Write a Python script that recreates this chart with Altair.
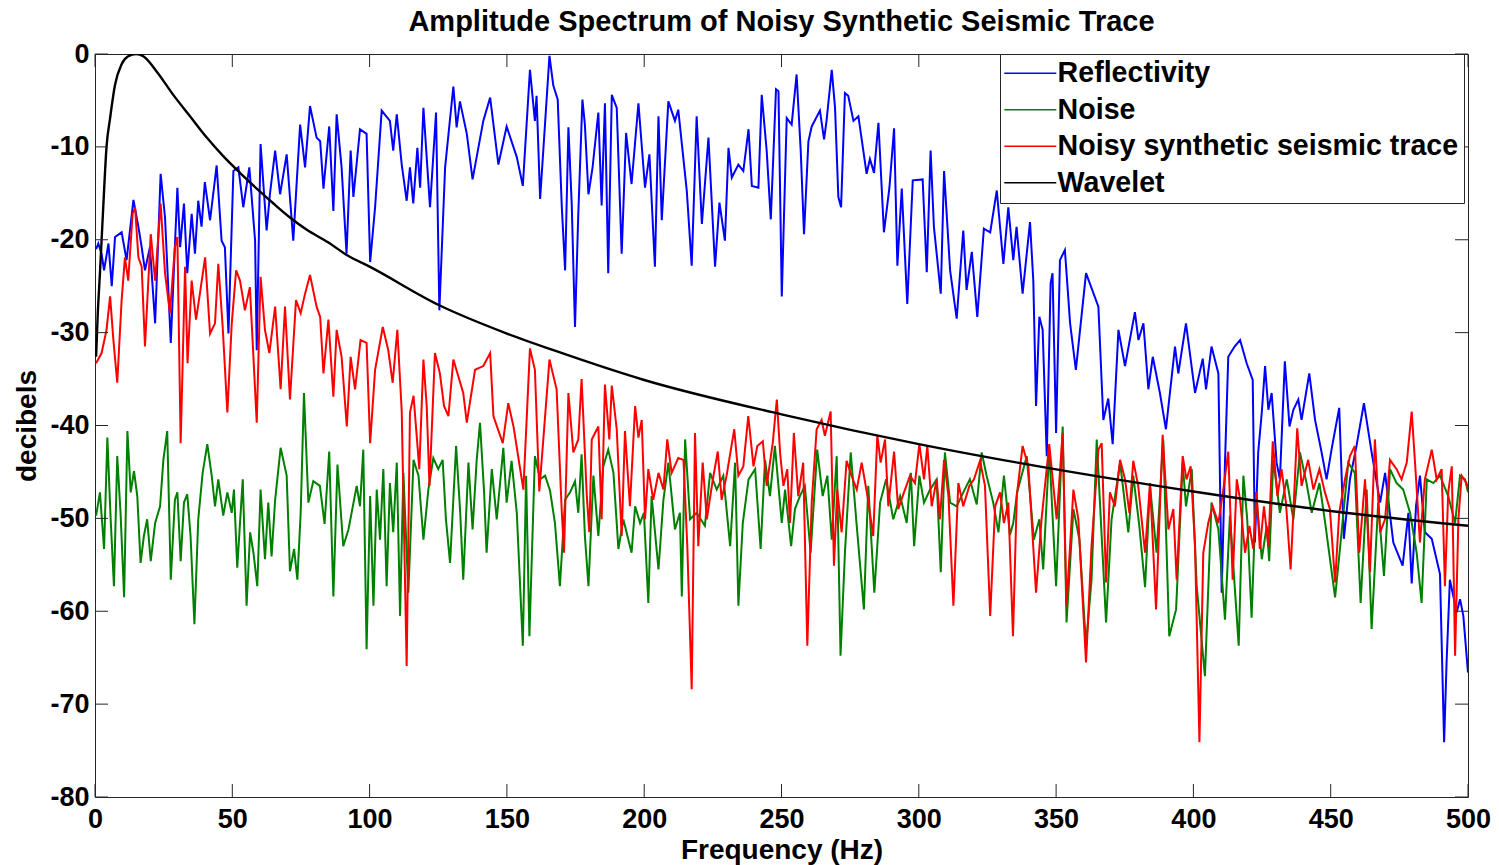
import altair as alt
import pandas as pd

# Amplitude spectra (frequency in Hz, level in dB)
reflectivity = [
    (0.4, -21), (1.2, -20.4), (2.4, -21.5), (3.3, -23.3), (4.9, -20.4), (6.1, -25), (7.3, -19.7),
    (9.7, -19.2), (11.5, -22.2), (14, -15.7), (15.8, -18.6), (17, -20.8), (18.2, -23.3), (20, -20.8),
    (21.9, -29), (23.9, -12.9), (25.5, -17.6), (27.6, -31.1), (30, -14.4), (31, -20.8), (32.4, -16.1),
    (33.6, -23.6), (35.2, -17.2), (36.4, -21.5), (37.6, -15.8), (38.8, -18.6), (40, -13.8), (41.9, -17.9),
    (44.3, -12), (46.1, -20.1), (47.3, -20.8), (48.6, -30.1), (50.4, -12.6), (52.2, -12.2), (54, -16.5),
    (56.2, -12.2), (58.3, -20.1), (58.9, -31.9), (60.3, -9.7), (62.5, -19), (63.7, -15.1), (65.6, -10.4),
    (67.4, -15.1), (69.8, -10.8), (72.2, -20.1), (74.7, -7.6), (76.5, -12.2), (78.3, -5.6), (80.7, -9),
    (82, -9.4), (83.2, -14.5), (85.3, -7.8), (86.8, -16.9), (88, -6.5), (89.8, -12.2), (91.6, -21.5),
    (93.1, -10.4), (94.1, -15.4), (96.5, -8.1), (98.9, -8.6), (100.2, -22.4), (102, -16.5), (104.4, -6.1),
    (107.4, -7.2), (108.6, -10.4), (109.9, -6.5), (111.7, -11.9), (113.5, -15.8), (114.7, -12.2),
    (115.9, -16.1), (117.4, -10.1), (118.4, -14.4), (119.6, -5.8), (122, -16.5), (124.2, -6.3),
    (125.4, -27.6), (127.5, -12.2), (130.5, -3.5), (131.7, -7.9), (132.9, -5.1), (135.4, -8.6),
    (137.5, -13.5), (141.4, -7.2), (143.9, -4.7), (146.9, -11.9), (149.9, -7.8), (153.6, -11.1),
    (155.8, -14.2), (158.4, -1.7), (160.2, -7.2), (160.8, -4.5), (162.1, -15.6), (165.5, -0.2),
    (166.9, -3.4), (168.5, -4.9), (170, -16.5), (171.2, -23.3), (172.4, -7.9), (173.6, -16.1),
    (174.8, -29.4), (176, -17.2), (177.5, -4.9), (178.4, -7.6), (179.7, -15.1), (181.2, -12.2),
    (183.3, -6.3), (184.5, -16.3), (185.7, -5.3), (186.9, -23.6), (188.2, -4.4), (190, -5.8),
    (191.8, -21.5), (193.4, -8.5), (195.4, -14), (197.9, -5.3), (200.3, -14.4), (201.9, -10.8),
    (203.9, -22.9), (205.2, -6.7), (206.4, -17.9), (208.8, -5.1), (211.2, -7.2), (212.4, -6),
    (215.5, -14.7), (217.3, -22.8), (219.1, -6.7), (221, -18.3), (223.4, -9), (225.8, -22.9),
    (227.4, -16), (229.4, -20.1), (230.7, -10.1), (231.9, -13.3), (234.3, -11.9), (236.1, -12.6),
    (238, -8.1), (239.2, -14.2), (241.6, -14.4), (242.8, -4.4), (244.6, -10.4), (246.1, -17.8),
    (248, -3.8), (248.9, -4), (250.1, -26.1), (250.8, -18.6), (251.9, -6.9), (253.7, -7.6),
    (255.5, -2.2), (257, -10.4), (258.2, -19.4), (259.8, -9.4), (261, -7.8), (264, -6.1), (265.5, -9.2),
    (266.4, -7.2), (268.3, -1.7), (269.5, -5.8), (270.7, -15.4), (271.7, -16.5), (273.1, -4.2),
    (274.3, -4.5), (276.2, -7.2), (278, -6.7), (281, -12.9), (282.2, -11.3), (283.7, -12.8),
    (285.3, -7.4), (287.3, -19.2), (289.3, -14.4), (291, -8), (292.2, -22.8), (293.8, -14.5),
    (295.8, -26.9), (297.8, -13.6), (301.4, -13.5), (302.9, -23.5), (304.3, -10.4), (305.5, -18.6),
    (308, -25.8), (309.2, -12.6), (311.4, -23.3), (313.8, -28.5), (316.2, -19), (317.4, -25.4),
    (319.3, -21.3), (321.3, -28.3), (323.7, -18.8), (326, -19.2), (328.4, -14.7), (330.8, -22.6),
    (332.6, -16.5), (334.4, -22.2), (335.6, -18.6), (337.8, -25.8), (340.5, -18.1), (341.7, -24.4),
    (342.7, -37.9), (343.9, -28.3), (345.1, -29.7), (346.6, -43.3), (348, -24.7), (348.7, -23.6),
    (350, -40.8), (351.4, -22.2), (353.2, -21.1), (355.1, -29), (357.2, -34), (360.9, -23.6),
    (365.4, -27.2), (367.2, -39.4), (369, -37.1), (370.6, -42), (372.7, -29.7), (375.1, -33.6),
    (378.7, -27.8), (380, -30.8), (381.8, -29), (383.6, -36.1), (385.2, -32.6), (387.8, -36.5),
    (390, -40.4), (393.3, -31.5), (394.5, -34.4), (397.3, -29), (400.6, -36.5), (403.4, -32.8),
    (404.6, -36.1), (406.6, -31.5), (409.1, -34.4), (410.3, -58), (411.5, -44), (412.7, -32.6),
    (415, -31.5), (417, -30.8), (419.4, -33.3), (421.6, -35.1), (422.4, -52.6), (423.6, -42.9),
    (424.9, -38.6), (426.1, -33.6), (427.3, -38.3), (428.5, -36.5), (430.3, -44), (431.5, -45.8),
    (433.3, -33.1), (435, -40.1), (436.4, -38.3), (438.2, -37.2), (439.4, -39.4), (442.2, -34.4),
    (444.3, -39.4), (446.7, -42.9), (448.5, -45.8), (450.3, -42.6), (453.1, -38.1), (454.8, -52.2),
    (457, -45.8), (459.4, -42.2), (462.1, -37.6), (464.9, -42.9), (468, -48.3), (469.8, -45.1),
    (472.8, -52.6), (476.2, -55.1), (478.3, -49.4), (479.5, -57), (481.1, -48.6), (482.5, -45.4),
    (484.3, -51.5), (486.8, -52.2), (489.8, -56), (491.3, -74.1), (492.2, -65.5), (493.4, -56.6),
    (495.9, -60.1), (497.1, -58.7), (498.3, -60.5), (500, -66.6),
]

noise = [
    (0.4, -49.7), (1.8, -47.2), (3.3, -53.3), (4.5, -41.3), (5.7, -50.1), (6.9, -57.3), (8.1, -43.3),
    (9.3, -49.4), (10.6, -58.5), (11.8, -40.6), (13, -47.2), (14.2, -44.9), (15.4, -47.6), (16.6, -54.8),
    (17.8, -51.9), (19, -50.1), (20.3, -54.6), (21.9, -50.5), (23.7, -48.7), (24.9, -43.7), (26.3, -40.6),
    (27.6, -56.6), (29.1, -48), (30, -47.2), (31.2, -54.6), (32.4, -48.3), (33.6, -47.4), (34.8, -51.9),
    (36.2, -61.4), (37.6, -50.1), (39.2, -45.1), (40.9, -42), (42.5, -45.4), (43.7, -48.7), (44.9, -45.8),
    (46.7, -49.7), (48.2, -47.2), (49.8, -49.4), (50.6, -46.9), (51.8, -55.3), (53.8, -45.8), (55.2, -59.4),
    (56.5, -51.5), (57.7, -53.7), (59.1, -57.3), (60.3, -46.9), (61.9, -54.4), (63.1, -48.3), (64.3, -54.1),
    (65.6, -48), (67.6, -42.4), (69.8, -45.4), (71, -55.7), (72.5, -53.3), (73.7, -56.6), (74.9, -49.4),
    (76.1, -36.5), (77.7, -48.3), (79.5, -46), (81.9, -46.5), (83.6, -50.6), (85.3, -42.8), (86.8, -58.4),
    (88.3, -44.2), (90.4, -53), (92.3, -51.2), (95.3, -46.5), (96.5, -48.7), (97.7, -42.6), (98.9, -64.1),
    (100.2, -47.6), (101.4, -59.4), (102.6, -46.9), (103.8, -52.3), (105, -44.7), (106.2, -57.3),
    (107.4, -46.2), (108.6, -51.5), (109.9, -44), (111.1, -60.5), (112.3, -45.1), (114.1, -58),
    (116, -43.7), (117.8, -45.4), (119.6, -52.3), (121.4, -46.9), (123.2, -43.5), (125, -44.7),
    (126.6, -43.7), (127.8, -50.1), (129.3, -54.8), (131.5, -42.2), (133, -49.4), (134.1, -56.6),
    (136, -44), (137.5, -51.2), (139, -43.7), (140.2, -39.7), (141.7, -47.2), (142.6, -53.7),
    (144.5, -44.7), (146.3, -50.1), (148.7, -42.4), (149.9, -48.3), (151.7, -43.8), (153.6, -49.4),
    (155.8, -63.7), (157, -45.4), (158.2, -62.7), (160.2, -43.3), (162.1, -45.8), (163.9, -45.4),
    (165.7, -47), (167.5, -50.5), (169.3, -57.3), (171.2, -48), (173, -47.2), (174.8, -46), (176, -49.4),
    (177.2, -43.1), (178.4, -51.9), (179.7, -57.3), (181.5, -45.4), (183.3, -51.9), (185.1, -44.4),
    (186.9, -42.6), (188.8, -45.1), (190.6, -53.3), (192.4, -50.1), (195.4, -53.7), (196.7, -48.7),
    (198.5, -50.5), (199.9, -49.4), (201.5, -59.1), (202.7, -47.6), (205.2, -55.5), (207, -48),
    (208.8, -44), (211.2, -51.2), (213, -49.4), (213.7, -58.4), (214.9, -41.5), (216.7, -50.1),
    (219.1, -49.4), (222.1, -50.8), (224, -45.1), (226.4, -46.9), (228.8, -45.4), (231.3, -53),
    (233.1, -44), (234.3, -59.4), (235.9, -50.5), (238, -45.8), (240.4, -44.7), (242.4, -53.3),
    (244, -43.7), (245.8, -47.6), (247.6, -42.2), (250.1, -50.5), (251.3, -46.9), (253.5, -53),
    (254.9, -49), (256.7, -47.6), (258.5, -46.5), (260.6, -53.7), (263, -42.6), (265, -47.6),
    (266.7, -45.4), (268.3, -52.3), (270.1, -43.3), (271.5, -64.8), (273.1, -53.7), (275.2, -42.9),
    (277.4, -50.8), (280, -59.8), (281.6, -46.5), (283.8, -58), (285.9, -48.3), (288.1, -45.8),
    (290.7, -50.1), (293.2, -47.6), (295.6, -50.5), (297.1, -45.1), (298.3, -53), (300.2, -45.4),
    (301.9, -48.3), (304.1, -46.9), (306.5, -45.8), (308, -55.8), (309.5, -42.9), (311.4, -48.3),
    (313.8, -48.7), (316.2, -47.2), (318.6, -45.8), (321.1, -48.5), (322.9, -42.9), (324.7, -45.4),
    (327.1, -48.3), (329, -51.5), (331, -45.4), (333.2, -51.8), (334.4, -50.5), (335.8, -47.2),
    (339.3, -43.3), (341.9, -52.3), (343.9, -50.1), (345.3, -55.5), (347.5, -42.6), (350, -57.3),
    (352.4, -40.1), (353.8, -61.2), (356.3, -49), (358.5, -52.3), (360.9, -63.7), (362.9, -56.6),
    (364.8, -41.5), (368.2, -61.2), (370.2, -50.1), (373.3, -44), (376.3, -51.5), (378.1, -45.4),
    (380.3, -50.8), (382.4, -57.4), (384.2, -46.5), (386.6, -53.7), (389, -41.5), (391.2, -62.7),
    (393.7, -59.8), (396.1, -44), (397.3, -48.7), (399.4, -44.7), (401.2, -57.3), (404.2, -67),
    (406.6, -48.3), (409.1, -51.2), (411.5, -60.9), (413.3, -49.7), (416.5, -63.7), (418.2, -45.4),
    (419.6, -50.1), (421.2, -60.7), (422.8, -47.2), (424.9, -54.4), (426.7, -50.8), (427.6, -54.6),
    (429.1, -43.7), (431.5, -49.4), (434, -45.8), (436.4, -50.1), (438.8, -42.9), (441.2, -46.2),
    (443.1, -49.4), (445.9, -46.2), (448, -50.5), (451.6, -58.5), (453.6, -52.6), (456.4, -44),
    (458.8, -45.1), (460.9, -59.1), (463.1, -46.9), (464.9, -61.9), (467.3, -48.3), (469.4, -56.2),
    (471.6, -44.7), (474, -46.2), (476.4, -46.9), (478.9, -49.4), (481.3, -53.7), (483.1, -59.1),
    (485, -45.8), (487.4, -46.2), (489.8, -45.4), (492.8, -47.6), (495.3, -50.5), (497.1, -45.4),
    (498.9, -45.8), (500, -47.2),
]

noisy_trace = [
    (0.4, -33.3), (2.4, -32.2), (4.2, -29.7), (5.5, -26.1), (6.7, -30.8), (8.1, -35.4), (9.7, -26.5),
    (10.9, -21.9), (12.1, -24.4), (13.7, -17.2), (14.6, -16.5), (15.8, -21.9), (17, -22.9), (18.2, -31.5),
    (20.3, -19.4), (21.9, -24.4), (23.9, -16.1), (25.5, -23.6), (27.3, -27.9), (29.1, -20.8), (30, -19.7),
    (31.2, -41.9), (32.8, -22.9), (33.7, -33.3), (35.2, -24.4), (36.8, -28.6), (38.2, -25.8), (40.1, -21.9),
    (41.9, -30.1), (43.7, -29), (44.9, -22.6), (46.5, -29.4), (48.2, -38.6), (49.8, -29), (51.4, -23.3),
    (52.8, -24.4), (54.6, -27.6), (56.4, -25.1), (58.9, -39.7), (60.3, -24), (61.9, -29.7), (63.5, -32.2),
    (65.6, -27.2), (67.6, -36.1), (69.2, -27.2), (71, -37.2), (73.2, -26.5), (74.9, -27.9), (76.5, -25.8),
    (78.3, -23.8), (80.7, -27.2), (82, -28.3), (83.2, -34.4), (85, -28.6), (86.8, -36.9), (88, -29.7),
    (89.8, -32.6), (91.7, -40.1), (93.1, -32.6), (94.7, -36.1), (96.7, -30.8), (98.9, -31.1),
    (100.2, -41.9), (102, -34), (104.8, -29.4), (106.8, -31.9), (108.4, -35.4), (110.1, -29.7),
    (111.7, -38.5), (113.5, -65.9), (114.7, -38.6), (116, -36.8), (118.1, -44.7), (119.6, -32.9),
    (120.8, -37.9), (121.8, -46.5), (123.8, -32.2), (125.6, -34.4), (127.1, -37.9), (128.7, -39),
    (130.5, -32.9), (134.1, -36.5), (135.4, -39.7), (138.4, -34), (141.4, -33.6), (143.9, -32.2),
    (145.1, -39), (148.5, -41.9), (150.5, -37.6), (152.4, -40.1), (156, -46.9), (158.4, -31.7),
    (160.2, -34), (161.8, -47.1), (165.5, -32.9), (168.1, -36.1), (170, -49.4), (170.8, -53.7),
    (172.4, -36.5), (174.2, -42.9), (176, -41.5), (177.2, -35), (179.1, -47.6), (180, -51.5),
    (180.9, -41.5), (183.3, -40.1), (184.5, -50.1), (185.7, -35.6), (187.3, -41.5), (188.2, -35.7),
    (190, -40.4), (191.8, -51.9), (193, -40.6), (194.8, -48.7), (196.7, -37.9), (197.9, -41.3),
    (199.1, -39.4), (200.3, -50.1), (201.5, -44.7), (203.3, -48), (205.2, -45.1), (207, -46.9),
    (208.4, -41.5), (210, -45.1), (212.4, -43.5), (214.3, -43.7), (215.7, -53), (217.3, -68.4),
    (218.5, -40.8), (219.7, -53), (221.3, -44), (222.8, -50.1), (225, -45.8), (226.8, -42.8),
    (228.2, -48), (230, -45.4), (232.8, -40.4), (234.3, -45.4), (236.1, -44.4), (237.9, -39),
    (239.8, -44.4), (241.2, -42.2), (243.2, -41.7), (244.6, -46.5), (246.8, -41.9), (248.3, -37.2),
    (249.5, -43), (250.7, -46.5), (252.1, -44.7), (253.1, -50.5), (254.5, -40.8), (256.1, -47.6),
    (257.9, -44), (259.4, -63.7), (261, -48.3), (262.8, -40.4), (264.6, -39.4), (265.8, -41.1),
    (267.9, -38.5), (269.1, -55.1), (270.3, -46.9), (271.9, -51.5), (273.7, -43.8), (275.5, -45.4),
    (277.4, -46.9), (279.2, -44), (281.3, -47.6), (283.4, -51.9), (284.9, -41), (286.1, -44),
    (287.7, -41.5), (288.9, -48.7), (291, -42.8), (292.5, -49), (294.6, -47.2), (296.8, -45.4),
    (298.6, -46.2), (300.2, -42), (301.9, -45.8), (303.1, -42.2), (304.7, -48.7), (306.5, -45.8),
    (307.7, -50.1), (309.2, -43.7), (310.8, -47.6), (312.6, -59.4), (314.4, -46.2), (316.2, -48.7),
    (318.4, -46.5), (320.1, -45.8), (322.3, -43.8), (324.1, -46.5), (326, -60.5), (327.8, -48.7),
    (329.6, -47.2), (331, -50.5), (332.6, -48.3), (334.3, -62.7), (335.7, -47.5), (337.8, -42.2),
    (339.9, -44.4), (342.7, -58), (344.7, -50.1), (347.5, -42), (350.2, -50.1), (352.4, -40.8),
    (353.8, -59.4), (356.3, -46.9), (358.1, -50.1), (360.9, -65.5), (362.9, -53), (365.4, -42.6),
    (366.6, -41.9), (368.2, -56.9), (369.6, -47.2), (371.4, -48.7), (373.3, -43.7), (375.1, -45.8),
    (376.7, -49.4), (378.1, -43.8), (379.9, -46.5), (382.4, -53.7), (384.2, -46.2), (386.4, -59.8),
    (388.8, -41), (390.9, -51.2), (392.7, -49), (393.9, -56.6), (396.1, -43.3), (397.5, -45.8),
    (399, -44.4), (400.6, -53), (402.2, -74.1), (403.6, -53.7), (405.4, -50.5), (407, -48.7),
    (409.1, -50.5), (410.9, -46.9), (412.7, -42.8), (414.3, -56.6), (415.8, -45.8), (417, -48),
    (418.8, -53.7), (420.4, -50.8), (421.8, -53.3), (423, -47.2), (424.2, -53.3), (425.7, -48.7),
    (427.3, -53), (428.9, -41.7), (430.6, -47.6), (432.1, -44.7), (433.7, -48.3), (435.4, -55.5),
    (436.4, -49.4), (437.8, -40.3), (439.4, -46.5), (441.8, -43.7), (443.7, -46.9), (445.9, -44.7),
    (447.9, -47.2), (449.7, -49), (451.6, -56.9), (453.1, -49.4), (455.2, -45.8), (457, -43.3),
    (458.8, -42.2), (460.4, -53.7), (462.5, -45.8), (464.3, -55.8), (466.1, -41.5), (468, -51.5),
    (469.8, -50.1), (471.6, -43.7), (474, -44.7), (475.8, -45.8), (477.7, -44), (479.5, -38.5),
    (481.1, -45.8), (482.5, -52.6), (484.3, -45.8), (486.8, -42.6), (488.6, -45.8), (490.4, -44.7),
    (491.6, -57.3), (492.8, -47.2), (494.1, -44.4), (495.3, -64.8), (496.5, -50.1), (497.7, -45.4),
    (499.5, -46.2), (500, -46.9),
]

wavelet = [
    (0.4, -32.6), (1, -28), (1.8, -23.6), (3, -16.5), (4.2, -10), (5.5, -6.9), (7.3, -3.3), (9.7, -1.1),
    (12.1, -0.25), (15, 0), (17.6, -0.25), (22.5, -1.9), (28.5, -4.4), (34.6, -6.7), (40.7, -9),
    (46.7, -11), (52.8, -12.8), (58.9, -14.5), (65, -16.1), (71, -17.6), (77, -18.9), (85, -20.3),
    (92, -21.7), (100, -22.9), (125, -27), (150, -30.1), (168, -32), (200, -35.1), (250, -38.8),
    (300, -42), (336, -44), (400, -47.1), (450, -49.2), (500, -50.8),
]

series_names = ["Reflectivity", "Noise", "Noisy synthetic seismic trace", "Wavelet"]
series_colors = ["#0000ff", "#008000", "#ff0000", "#000000"]
x_ticks = [0, 50, 100, 150, 200, 250, 300, 350, 400, 450, 500]
y_ticks = [0, -10, -20, -30, -40, -50, -60, -70, -80]

W, H = 1373, 743
FONT = "Liberation Sans"
TICK_LEN = 13
FRAME = "#262626"


def frame(points, name):
    return pd.DataFrame({
        "hz": [p[0] for p in points],
        "db": [p[1] for p in points],
        "series": name,
    })


# plain hyphen-minus labels
plain_label = "'' + datum.value"

x_enc = alt.X(
    "hz:Q",
    scale=alt.Scale(domain=[0, 500], nice=False, zero=False),
    axis=alt.Axis(values=x_ticks, title="Frequency (Hz)", labelExpr=plain_label, labelFlush=False),
)
y_enc = alt.Y(
    "db:Q",
    scale=alt.Scale(domain=[-80, 0], nice=False, zero=False),
    axis=alt.Axis(values=y_ticks, title="decibels", labelExpr=plain_label, labelFlush=False),
)
# Legend key: a line twice as long as the symbol box, so entries stay compact
color_enc = alt.Color(
    "series:N",
    scale=alt.Scale(domain=series_names, range=series_colors),
    title=None,
    legend=alt.Legend(
        orient="none",
        legendX=905,
        legendY=0,
        symbolType="M-2,0H2",
        symbolSize=676,
        symbolStrokeWidth=1.5,
        symbolOffset=11,
        labelFont=FONT,
        labelFontSize=28.6,
        labelFontWeight="bold",
        labelColor="#000000",
        labelLimit=600,
        labelOffset=13,
        rowPadding=7.5,
        padding=5,
        strokeColor=FRAME,
        fillColor="#ffffff",
    ),
)

# Spectra, drawn in plotting order so the wavelet ends up on top
spectra = [
    (reflectivity, "Reflectivity", 2.0, "linear"),
    (noise, "Noise", 2.0, "linear"),
    (noisy_trace, "Noisy synthetic seismic trace", 2.0, "linear"),
    (wavelet, "Wavelet", 2.4, "monotone"),
]
layers = [
    alt.Chart(frame(pts, name))
    .mark_line(strokeWidth=sw, interpolate=interp, clip=True)
    .encode(x=x_enc, y=y_enc, color=color_enc)
    for pts, name, sw, interp in spectra
]

# Inward tick marks on all four sides of the box
xt = pd.DataFrame({"hz": x_ticks})
yt = pd.DataFrame({"db": y_ticks})
tick_style = dict(color=FRAME, strokeWidth=1)
layers += [
    alt.Chart(xt).mark_rule(**tick_style).encode(x=x_enc, y=alt.value(H), y2=alt.value(H - TICK_LEN)),
    alt.Chart(xt).mark_rule(**tick_style).encode(x=x_enc, y=alt.value(0), y2=alt.value(TICK_LEN)),
    alt.Chart(yt).mark_rule(**tick_style).encode(y=y_enc, x=alt.value(0), x2=alt.value(TICK_LEN)),
    alt.Chart(yt).mark_rule(**tick_style).encode(y=y_enc, x=alt.value(W), x2=alt.value(W - TICK_LEN)),
]

chart = (
    alt.layer(*layers)
    .properties(
        width=W,
        height=H,
        title=alt.Title(
            "Amplitude Spectrum of Noisy Synthetic Seismic Trace",
            font=FONT,
            fontSize=29,
            fontWeight="bold",
            color="#000000",
            anchor="middle",
            offset=3,
        ),
        autosize=alt.AutoSizeParams(type="none"),
        padding={"left": 95, "top": 54, "right": 31, "bottom": 68},
        background="#ffffff",
    )
    .configure_view(stroke=FRAME, strokeWidth=1)
    .configure_axis(
        labelFont=FONT,
        labelFontSize=27,
        labelFontWeight="bold",
        labelColor="#000000",
        titleFont=FONT,
        titleFontSize=28,
        titleFontWeight="bold",
        titleColor="#000000",
        tickSize=0,
        domain=False,
        grid=False,
        labelOverlap=False,
    )
    .configure_axisX(labelPadding=9, titlePadding=4)
    .configure_axisY(labelPadding=6, titlePadding=8)
)

chart.save("out.html", embed_options={"renderer": "svg", "actions": False})
